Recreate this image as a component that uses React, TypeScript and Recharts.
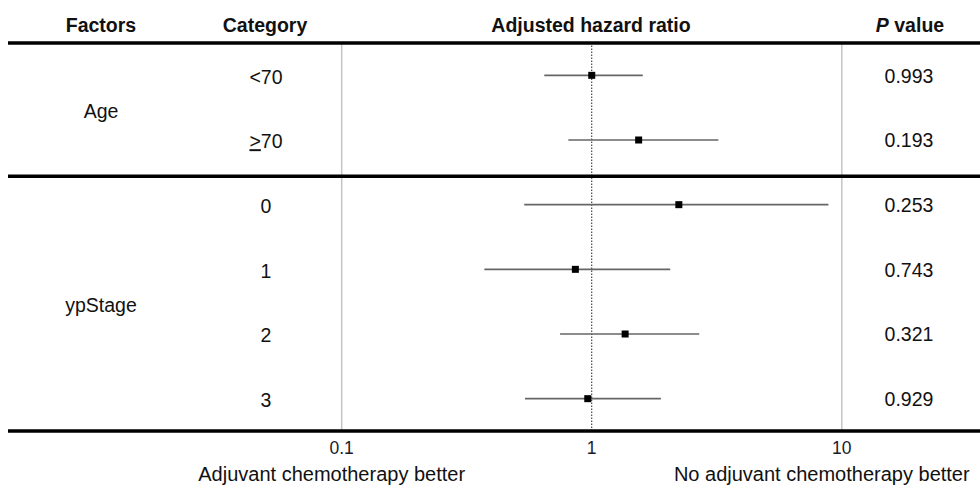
import { ScatterChart, Scatter, XAxis, YAxis, ErrorBar, ReferenceLine } from "recharts"

const factors = ["Age", "ypStage"]
const factorRows = [0.5, 3.5]
const categories = ["<70", "≥70", "0", "1", "2", "3"]
const hazardRatio = [1.0, 1.54, 2.23, 0.86, 1.36, 0.964]
const lowerCI = [0.646, 0.806, 0.537, 0.372, 0.747, 0.541]
const upperCI = [1.6, 3.21, 8.84, 2.06, 2.69, 1.89]
const pValues = ["0.993", "0.193", "0.253", "0.743", "0.321", "0.929"]
const xTicks = [0.1, 1, 10]
const sideLabels: Record<number, string> = {
  0.1: "Adjuvant chemotherapy better",
  10: "No adjuvant chemotherapy better",
}
const dividers = [-0.5, 1.56, 5.5]

const data = categories.map((c, i) => ({
  row: i,
  hr: hazardRatio[i],
  err: [hazardRatio[i] - lowerCI[i], upperCI[i] - hazardRatio[i]],
}))

const FONT = "'Liberation Sans', Arial, sans-serif"
const TEXT = "#111"

function RowTick(props: any) {
  const { y, payload } = props
  const v = payload.value
  if (!Number.isInteger(v)) {
    const idx = factorRows.indexOf(v)
    return (
      <text x={101} y={y + 4} dy="0.35em" textAnchor="middle" fontSize={19.5} fill={TEXT} fontFamily={FONT}>
        {factors[idx]}
      </text>
    )
  }
  const cat = categories[v]
  return (
    <g>
      <text x={266} y={y} dy="0.42em" textAnchor="middle" fontSize={19.5} fill={TEXT} fontFamily={FONT}>
        {cat === "≥70" ? (
          <>
            <tspan textDecoration="underline">&gt;</tspan>
            <tspan>70</tspan>
          </>
        ) : (
          cat
        )}
      </text>
      <text x={909} y={y} dy="0.38em" textAnchor="middle" fontSize={19.5} fill={TEXT} fontFamily={FONT}>
        {pValues[v]}
      </text>
    </g>
  )
}

function HrTick(props: any) {
  const { x, y, payload } = props
  const label = sideLabels[payload.value]
  const shift = payload.value === 10 ? -20 : -10
  return (
    <g>
      <text x={x} y={y} dy={23} textAnchor="middle" fontSize={17.5} fill="#1a1a2a" fontFamily={FONT}>
        {payload.value}
      </text>
      {label && (
        <text x={x + shift} y={y} dy={50} textAnchor="middle" fontSize={20} fill={TEXT} fontFamily={FONT}>
          {label}
        </text>
      )}
    </g>
  )
}

const square = (p: any) => <rect x={p.cx - 3.5} y={p.cy - 3.5} width={7} height={7} fill="#000" />

export default function App() {
  return (
    <div style={{ position: "absolute", left: 0, top: 0, width: 980, height: 486, background: "#fff" }}>
      <svg width={980} height={43} style={{ position: "absolute", left: 0, top: 0 }}>
        <g fontFamily={FONT} fontSize={19.5} fontWeight="bold" fill={TEXT} textAnchor="middle">
          <text x={101} y={32}>Factors</text>
          <text x={265} y={32}>Category</text>
          <text x={591} y={32}>Adjusted hazard ratio</text>
          <text x={910} y={32}>
            <tspan fontStyle="italic">P</tspan> value
          </text>
        </g>
      </svg>
      <ScatterChart width={980} height={486} margin={{ top: 43, right: 0, bottom: 25, left: 7 }}>
        <XAxis
          type="number"
          dataKey="hr"
          scale="log"
          domain={[0.00463, 35.7]}
          allowDataOverflow
          ticks={xTicks}
          tick={(p: any) => <HrTick {...p} />}
          tickLine={false}
          axisLine={false}
          tickSize={0}
          tickMargin={0}
          height={30}
        />
        <YAxis
          type="number"
          dataKey="row"
          domain={[-0.5, 5.5]}
          reversed
          ticks={[0, factorRows[0], 1, 2, 3, factorRows[1], 4, 5]}
          interval={0}
          tick={(p: any) => <RowTick {...p} />}
          tickLine={false}
          axisLine={false}
          width={1}
        />
        <ReferenceLine x={0.1} stroke="#c4c4c4" strokeWidth={1.5} />
        <ReferenceLine x={10} stroke="#c4c4c4" strokeWidth={1.5} />
        <ReferenceLine x={1} stroke="#222" strokeWidth={1} strokeDasharray="1.5 1.5" />
        {dividers.map((d) => (
          <ReferenceLine key={d} y={d} stroke="#000" strokeWidth={3.5} />
        ))}
        <Scatter data={data} shape={square} isAnimationActive={false}>
          <ErrorBar dataKey="err" direction="x" width={0} stroke="#666" strokeWidth={1.6} isAnimationActive={false} />
        </Scatter>
      </ScatterChart>
    </div>
  )
}
